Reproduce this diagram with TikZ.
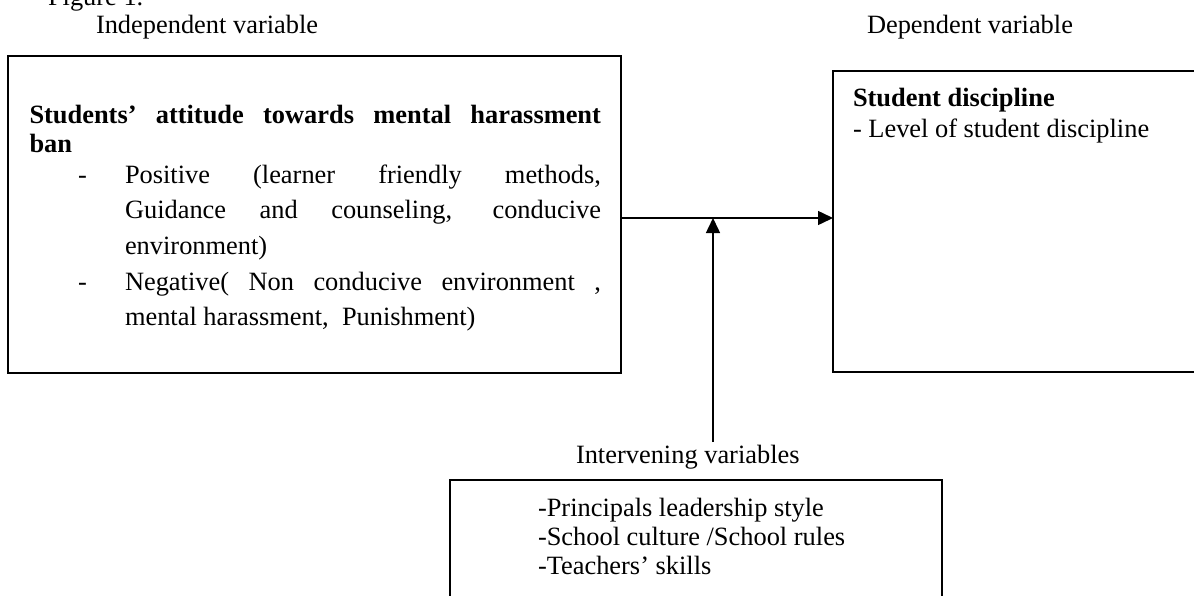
\documentclass[tikz,border=0pt]{standalone}
\usepackage{fontspec}
\setmainfont{Liberation Serif}
\usetikzlibrary{arrows.meta}
\begin{document}
\begin{tikzpicture}[x=0.5pt,y=-0.5pt,
  every node/.style={inner sep=0pt, outer sep=0pt},
  txt/.style={anchor=base west, font=\fontsize{13.2}{15}\selectfont},
  bold/.style={txt, font=\fontsize{13.2}{15}\selectfont\bfseries},
  frame/.style={draw, line width=0.85pt, anchor=north west},
  link/.style={line width=0.75pt, -{Triangle[length=7.5pt,width=7pt]}}]
\useasboundingbox (0,0) rectangle (1194,595);
\clip (0,0) rectangle (1194,595);

% boxes
\node[frame, minimum width=306.5pt, minimum height=158.5pt] (indep) at (8,56) {};
\node[frame, minimum width=200pt, minimum height=150.5pt] (dep) at (833,71) {};
\node[frame, minimum width=246pt, minimum height=75pt] (interv) at (450,480) {};

% captions
\node[txt] (fig) at (48,5) {Figure 1.};
\node[txt] (indeplbl) at (96,33) {Independent variable};
\node[txt] (deplbl) at (867,33) {Dependent variable};
\node[txt] (intlbl) at (576,463) {Intervening variables};

% independent variable box
\node[bold] (h1) at (29.5,123) {\makebox[285.75pt][s]{Students’ attitude towards mental harassment}};
\node[bold] (h2) at (29.5,152) {ban};
\node[txt] (d1) at (78,183) {-};
\node[txt] (p1) at (125,183) {\makebox[238pt][s]{Positive (learner friendly methods,}};
\node[txt] (p2) at (125,218) {\makebox[238pt][s]{Guidance and counseling, conducive}};
\node[txt] (p3) at (125,254) {environment)};
\node[txt] (d2) at (78,290) {-};
\node[txt] (n1) at (125,290) {\makebox[238pt][s]{Negative( Non conducive environment ,}};
\node[txt] (n2) at (125,325) {mental harassment, \ Punishment)};

% dependent variable box
\node[bold] (dh) at (853,106) {Student discipline};
\node[txt] (dl) at (853,137) {- Level of student discipline};

% intervening variables box
\node[txt] (i1) at (538,516) {-Principals leadership style};
\node[txt] (i2) at (538,545) {-School culture /School rules};
\node[txt] (i3) at (538,574) {-Teachers’ skills};

% connectors
\coordinate (mid) at (0,218);
\coordinate (ivfoot) at (713,442);
\draw[link] (indep.east |- mid) -- (dep.west |- mid);
\draw[link] (ivfoot) -- (ivfoot |- mid);
\end{tikzpicture}
\end{document}
